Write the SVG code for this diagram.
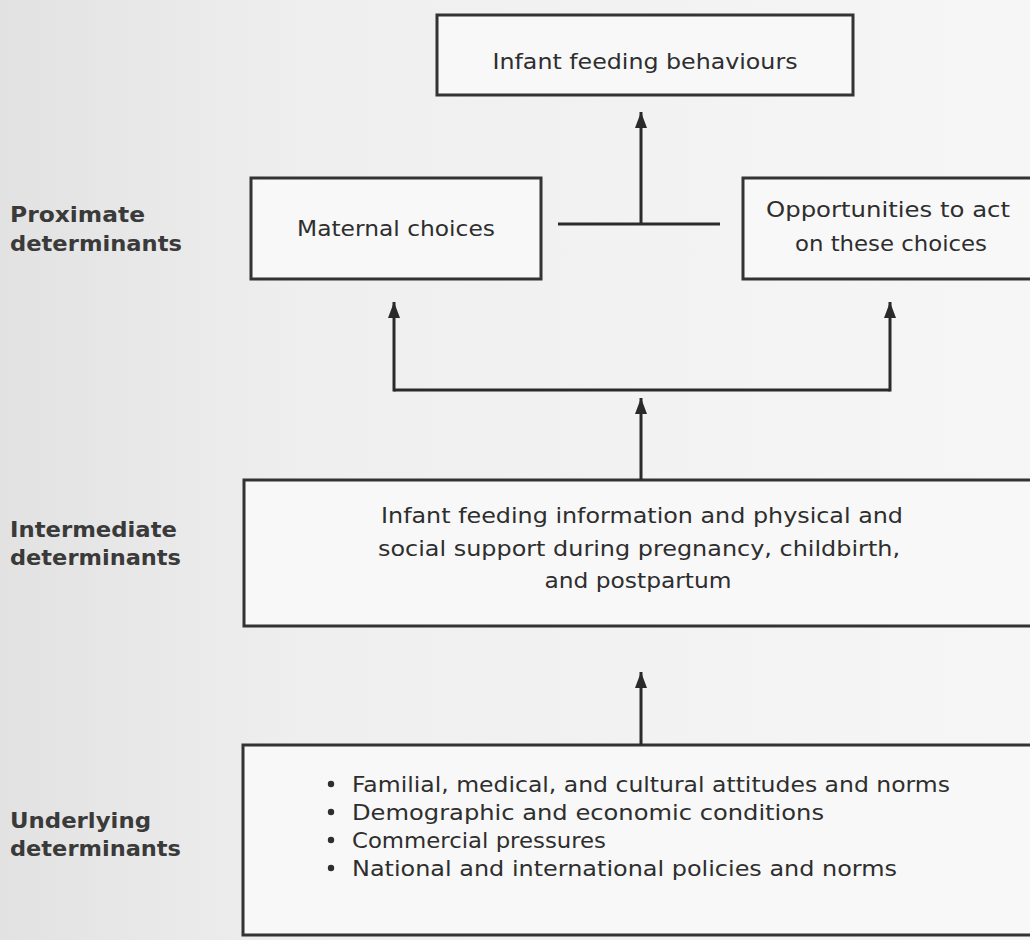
<svg xmlns="http://www.w3.org/2000/svg" width="1030" height="940" viewBox="0 0 1030 940">
<defs>
<linearGradient id="bg" x1="0" y1="0" x2="1" y2="0">
<stop offset="0" stop-color="#e2e2e2"/>
<stop offset="0.3" stop-color="#efefef"/>
<stop offset="1" stop-color="#f6f6f6"/>
</linearGradient>
<marker id="ah" viewBox="0 0 16 12" refX="16" refY="6" markerWidth="16" markerHeight="12" markerUnits="userSpaceOnUse" orient="auto">
<path d="M0,0 L16,6 L0,12 Z" fill="#2a2a2a"/>
</marker>
<style>
.box{fill:#f8f8f8;stroke:#333;stroke-width:3}
.t{font-family:"DejaVu Sans","Liberation Sans",sans-serif;font-size:22px;fill:#2e2e2e}
.lab{font-family:"DejaVu Sans","Liberation Sans",sans-serif;font-size:22px;font-weight:bold;fill:#3a3a3a}
.c{text-anchor:middle}
.ln{stroke:#2a2a2a;stroke-width:3;fill:none}
.dot{fill:#2e2e2e}
</style>
</defs>
<rect width="1030" height="940" fill="url(#bg)"/>
<g id="labels">
<text class="lab" x="10" y="222" textLength="135" lengthAdjust="spacingAndGlyphs">Proximate</text>
<text class="lab" x="10" y="251" textLength="172" lengthAdjust="spacingAndGlyphs">determinants</text>
<text class="lab" x="10" y="537" textLength="167" lengthAdjust="spacingAndGlyphs">Intermediate</text>
<text class="lab" x="10" y="565" textLength="171" lengthAdjust="spacingAndGlyphs">determinants</text>
<text class="lab" x="10" y="828" textLength="141" lengthAdjust="spacingAndGlyphs">Underlying</text>
<text class="lab" x="10" y="856" textLength="171" lengthAdjust="spacingAndGlyphs">determinants</text>
</g>
<g id="node-behaviours">
<rect class="box" x="437" y="15" width="416" height="80"/>
<text class="t c" x="645" y="69" textLength="305" lengthAdjust="spacingAndGlyphs">Infant feeding behaviours</text>
</g>
<g id="node-maternal">
<rect class="box" x="251" y="178" width="290" height="101"/>
<text class="t c" x="396" y="236" textLength="198" lengthAdjust="spacingAndGlyphs">Maternal choices</text>
</g>
<g id="node-opportunities">
<rect class="box" x="743" y="178" width="300" height="101"/>
<text class="t c" x="888" y="217" textLength="244" lengthAdjust="spacingAndGlyphs">Opportunities to act</text>
<text class="t c" x="891" y="251" textLength="192" lengthAdjust="spacingAndGlyphs">on these choices</text>
</g>
<g id="node-intermediate">
<rect class="box" x="244" y="480" width="800" height="146"/>
<text class="t c" x="642" y="523" textLength="522" lengthAdjust="spacingAndGlyphs">Infant feeding information and physical and</text>
<text class="t c" x="639" y="556" textLength="522" lengthAdjust="spacingAndGlyphs">social support during pregnancy, childbirth,</text>
<text class="t c" x="638" y="588" textLength="187" lengthAdjust="spacingAndGlyphs">and postpartum</text>
</g>
<g id="node-underlying">
<rect class="box" x="243" y="745" width="800" height="190"/>
<circle class="dot" cx="331" cy="784" r="3.2"/>
<text class="t" x="352" y="792" textLength="598" lengthAdjust="spacingAndGlyphs">Familial, medical, and cultural attitudes and norms</text>
<circle class="dot" cx="331" cy="812" r="3.2"/>
<text class="t" x="352" y="820" textLength="472" lengthAdjust="spacingAndGlyphs">Demographic and economic conditions</text>
<circle class="dot" cx="331" cy="840" r="3.2"/>
<text class="t" x="352" y="848" textLength="254" lengthAdjust="spacingAndGlyphs">Commercial pressures</text>
<circle class="dot" cx="331" cy="868" r="3.2"/>
<text class="t" x="352" y="876" textLength="545" lengthAdjust="spacingAndGlyphs">National and international policies and norms</text>
</g>
<g id="connectors">
<path class="ln" d="M558,224 H720"/>
<path class="ln" d="M641,224 V112" marker-end="url(#ah)"/>
<path class="ln" d="M394,390 H890"/>
<path class="ln" d="M394,391.5 V302" marker-end="url(#ah)"/>
<path class="ln" d="M890,391.5 V302" marker-end="url(#ah)"/>
<path class="ln" d="M641,480 V398" marker-end="url(#ah)"/>
<path class="ln" d="M641,745 V672" marker-end="url(#ah)"/>
</g>
</svg>
